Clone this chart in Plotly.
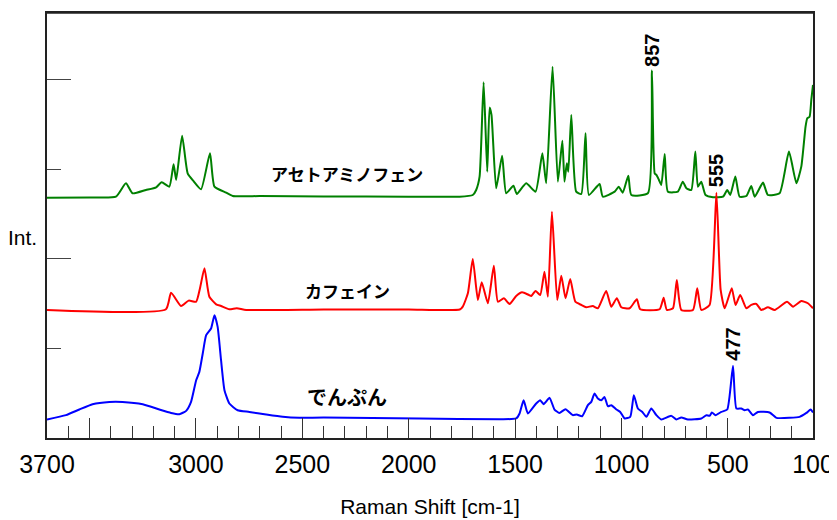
import plotly.graph_objects as go

# ---------------- data (Raman shift [cm-1], intensity above each spectrum's baseline) ----------------
acet_shift = [3700, 3500, 3376, 3329, 3298, 3235, 3187, 3161, 3125, 3105, 3093, 3065, 3039, 3012, 2976,
              2934, 2913, 2858, 2827, 2700, 2400, 2000, 1761, 1699, 1683, 1667, 1648, 1631, 1620, 1611,
              1589, 1561, 1542, 1508, 1492, 1448, 1404, 1372, 1354, 1324, 1299, 1278, 1268, 1257, 1250,
              1236, 1213, 1189, 1169, 1153, 1103, 1088, 1032, 1013, 994, 968, 954, 876, 857, 844, 836,
              824, 813, 797, 782, 735, 712, 695, 672, 653, 641, 625, 605, 570, 523, 503, 489, 465, 445,
              413, 390, 374, 335, 312, 257, 213, 178, 155, 135, 127, 116, 108, 100]
acet_int = [-1, -0.5, 0.3, 15.3, 4.1, 7.8, 10.8, 16.4, 11.5, 36.5, 19, 68.4, 26.4, 17.9, 8.6,
            48.8, 11.5, 4.8, 1.1, 1.0, 0.5, 0.3, 0.3, 2.2, 7.8, 22.6, 128, 28.2, 99.7, 91.5,
            9.7, 46.1, 4.1, 12.6, 3.3, 15.3, 5.9, 48.8, 15.3, 145.4, 17.1, 62.8, 17.1, 37.6, 28.2,
            91.5, 5.9, 3.3, 71.1, 2.2, 14.5, 0.3, 5.9, 11.5, 4.8, 23.8, 2.2, 4.1, 141, 26.4, 24.6,
            19, 13.4, 48, 5.9, 5.9, 17.1, 9.7, 7.8, 50.6, 11.5, 17.1, 2.2, -0.3, 0.3, 7.8, 2.2, 22.7, 0.3,
            1.1, 12.3, 0.3, 16, 2.2, 4.1, 50.6, 15.3, 33.8, 78.5, 87.8, 89.6, 108.3, 125]

caff_shift = [3700, 3141, 3117, 3070, 3034, 2999, 2981, 2960, 2937, 2905, 2882, 2843, 2808, 2764, 2400,
              2000, 1760, 1746, 1722, 1699, 1675, 1657, 1628, 1600, 1581, 1553, 1526, 1495, 1467, 1435,
              1424, 1404, 1382, 1362, 1346, 1327, 1302, 1283, 1263, 1241, 1217, 1189, 1166, 1135, 1111,
              1072, 1048, 1022, 1001, 962, 928, 912, 821, 802, 787, 758, 740, 719, 664, 644, 625, 586,
              554, 534, 515, 482, 464, 442, 413, 390, 366, 343, 312, 280, 222, 194, 155, 124, 100]
caff_int = [-1.1, -0.3, 18.2, 3.3, 9.3, 8.1, 23.1, 45.4, 13.7, 5.2, 3.3, -0.3, 0.8, -1.1, -0.5,
            -0.5, -0.6, 2.6, 17.5, 55.8, 10, 29.8, 6.4, 48.3, 8.1, 11.9, 5.6, 14.5, 18.6, 15.6,
            14.5, 20.1, 15.6, 41.6, 13.7, 108.6, 10, 37.2, 11.9, 33.5, 8.1, 4.5, 1.9, 3.3, 0.8,
            20.1, 2.6, 11.9, 1.9, 0.8, 10.8, -0.3, -0.3, 12.6, -1.1, 0.8, 32.4, -1.1, -1.1, 23.1, -1.1, 4.5,
            129.8, 21.2, 0.8, 23.1, 4.5, 15.6, 0.8, 4.5, 5.6, -1.1, 1.9, -1.1, 8.1, 2.6, 8.9, 6.4, 0.8]

starch_shift = [3700, 3611, 3548, 3486, 3407, 3345, 3250, 3172, 3117, 3078, 3046, 3023, 2999, 2984, 2968,
                2952, 2929, 2913, 2898, 2882, 2866, 2843, 2804, 2749, 2670, 2592, 2514, 2400, 1950, 1573,
                1495, 1479, 1460, 1440, 1401, 1382, 1366, 1338, 1315, 1292, 1263, 1229, 1210, 1185, 1158,
                1142, 1127, 1111, 1095, 1080, 1064, 1048, 1024, 1006, 985, 959, 942, 923, 902, 883, 860,
                836, 813, 766, 742, 719, 688, 625, 601, 586, 575, 558, 531, 503, 476, 460, 437, 421, 406,
                382, 359, 304, 272, 210, 163, 131, 111, 100]
starch_int = [-0.3, 4.5, 10.8, 16.7, 19.3, 19.3, 16.7, 10.8, 7, 5.6, 9.3, 19.3, 43.5, 52.8, 73.3,
              93.7, 101.2, 116.1, 103, 65.8, 32.4, 17.5, 10, 8.1, 5.2, 2.6, 1.5, 1.9, 0.8, 0,
              0.8, 6.4, 21.2, 6.4, 17.5, 21.2, 16.7, 23.8, 10.8, 7, 11.2, 4.5, 5.2, 3.3, 15.6,
              19.3, 28.7, 23.1, 21.2, 24.9, 14.5, 15.6, 10.8, 8.1, 0.8, 2.6, 26.8, 11.9, 8.1, 2.6, 11.9,
              4.5, -0.3, 3.7, -0.3, 1.9, -0.3, 0.8, 4.5, 3.7, 7.5, 4.5, 8.1, 10.8, 59.5, 11.9, 11.9, 10, 10.8,
              4.5, 8.1, 7.5, 1.5, 1.5, 2.6, 7, 10.8, 7.5]

names = ["アセトアミノフェン", "カフェイン", "でんぷん"]
offsets = [269, 144, 21]
colors = ["#008000", "#ff0000", "#0000ff"]

peak_marks = [857, 555, 477]
tick_vals = [3700, 3500, 3000, 2500, 2000, 1500, 1000, 500, 100]
tick_text = ["3700", "", "3000", "2500", "2000", "1500", "1000", "500", "100"]

FONT = "Liberation Sans, Arial, sans-serif"
JP = "Noto Sans CJK JP, sans-serif"

fig = go.Figure()
series = [(acet_shift, acet_int), (caff_shift, caff_int), (starch_shift, starch_int)]
for (xs, ys), off, col, nm in zip(series, offsets, colors, names):
    fig.add_trace(go.Scatter(x=xs, y=[off + v for v in ys], mode="lines", name=nm,
                             line=dict(color=col, width=2, shape="spline", smoothing=0.5),
                             showlegend=False, hoverinfo="skip"))

# compound names
name_pos = [(2288, 295, 17), (2288, 165, 17), (2288, 46, 20)]
for nm, (x, y, fs) in zip(names, name_pos):
    fig.add_annotation(x=x, y=y, text="<b>" + nm + "</b>", showarrow=False,
                       font=dict(family=JP, size=fs, color="black"), xanchor="center", yanchor="middle")

# peak labels
peak_y = [433, 298, 105]
for p, y in zip(peak_marks, peak_y):
    fig.add_annotation(x=p, y=y, text="<b>" + str(p) + "</b>", textangle=-90, showarrow=False,
                       font=dict(family=FONT, size=20, color="black"), xanchor="center", yanchor="middle")

# y-axis label
fig.add_annotation(xref="paper", yref="paper", x=-0.0326, y=0.472, text="Int.", showarrow=False,
                   font=dict(family=FONT, size=21, color="black"), xanchor="center", yanchor="middle")

# top frame edge
fig.add_shape(type="line", xref="paper", yref="paper", x0=0, x1=1, y0=1, y1=1,
              line=dict(color="#222", width=1.5), layer="above")

minor_x = [v for v in range(200, 3700, 100) if v % 500 != 0]

# page body has an 8px default margin; size the figure so it fits the 837x520 window
fig.update_layout(
    width=829, height=512,
    margin=dict(l=39, r=24, t=5, b=82, autoexpand=False),
    paper_bgcolor="white", plot_bgcolor="white",
    font=dict(family=FONT, color="black"),
    xaxis=dict(range=[3700, 100], autorange=False, automargin=False, showgrid=False, zeroline=False,
               showline=True, linecolor="#222", linewidth=1.5, mirror=True,
               tickmode="array", tickvals=tick_vals, ticktext=tick_text,
               ticks="inside", ticklen=20, tickwidth=1.2, tickcolor="#333",
               tickfont=dict(family=FONT, size=25, color="black"), ticklabelstandoff=3,
               minor=dict(tickmode="array", tickvals=minor_x, ticks="inside", ticklen=12,
                          tickwidth=1.2, tickcolor="#333", showgrid=False),
               title=dict(text="Raman Shift [cm-1]", font=dict(family=FONT, size=21, color="black"),
                          standoff=23)),
    yaxis=dict(range=[0, 474.3], autorange=False, automargin=False, showgrid=False, zeroline=False,
               showline=True, linecolor="#222", linewidth=1.5, mirror=True,
               tickmode="array", tickvals=[200, 400], showticklabels=False,
               ticks="inside", ticklen=24, tickwidth=1.2, tickcolor="#444",
               minor=dict(tickmode="array", tickvals=[100, 300], ticks="inside", ticklen=14,
                          tickwidth=1.2, tickcolor="#444", showgrid=False)),
)

fig.write_html("out.html")
